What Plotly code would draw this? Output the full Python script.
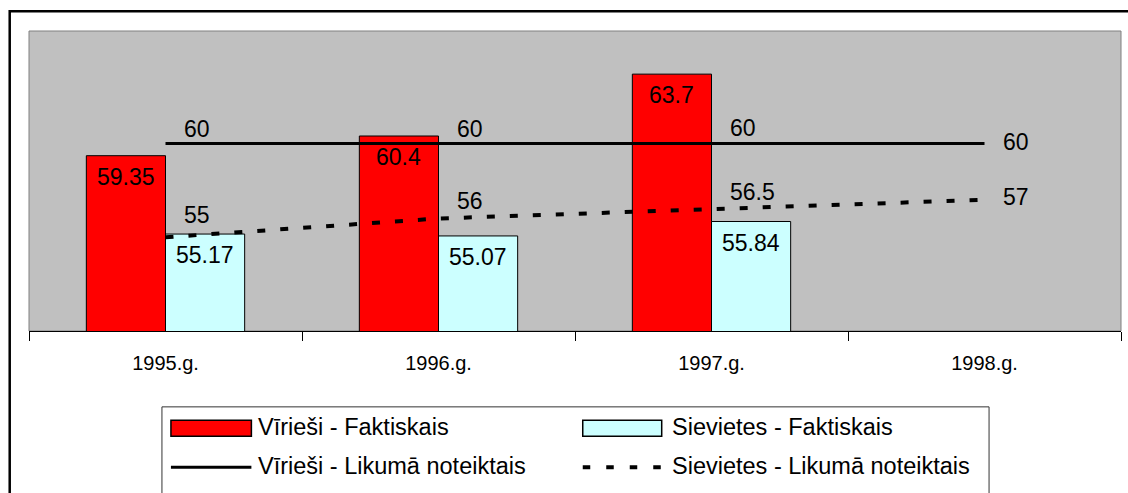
import plotly.graph_objects as go

# ---- data ----
categories = ["1995.g.", "1996.g.", "1997.g.", "1998.g."]
bar_categories = ["1995.g.", "1996.g.", "1997.g."]
men_actual = [59.35, 60.4, 63.7]
women_actual = [55.17, 55.07, 55.84]
men_legal = [60, 60, 60, 60]
women_legal = [55, 56, 56.5, 57]
series_names = ["Vīrieši - Faktiskais", "Sievietes - Faktiskais",
                "Vīrieši - Likumā noteiktais", "Sievietes - Likumā noteiktais"]

# ---- layout geometry / style ----
W, H = 1128, 493
L, R, T, B = 29, 6.5, 31, 161.5
pw, ph = W - L - R, H - T - B
FONT = "Arial, Liberation Sans, sans-serif"
RED, CYAN = "#FF0000", "#CCFFFF"
DASH = "8px,15px"


def px(x):
    return (x - L) / pw


def py(y):
    return (H - B - y) / ph


fig = go.Figure()
fig.add_trace(go.Bar(x=bar_categories, y=men_actual, name=series_names[0],
                     marker=dict(color=RED, line=dict(color="black", width=1))))
fig.add_trace(go.Bar(x=bar_categories, y=women_actual, name=series_names[1],
                     marker=dict(color=CYAN, line=dict(color="black", width=1))))
fig.add_trace(go.Scatter(x=categories, y=men_legal, mode="lines", name=series_names[2],
                         line=dict(color="black", width=3)))
fig.add_trace(go.Scatter(x=categories, y=women_legal, mode="lines", name=series_names[3],
                         line=dict(color="black", width=4, dash=DASH)))

annotations = []
half_bar = pw / len(categories) * (1 - 0.42) / 2 / 2
for xs, vals, sh in [(bar_categories, men_actual, -half_bar), (bar_categories, women_actual, half_bar)]:
    for c, v in zip(xs, vals):
        annotations.append(dict(x=c, y=v, text=str(v), showarrow=False, xshift=sh, yshift=-21,
                                xanchor="center", yanchor="middle",
                                font=dict(family=FONT, size=23, color="black")))
men_shift = [15, 15, 16, 2]
women_shift = [22, 18, 17, 3]
for vals, shifts in [(men_legal, men_shift), (women_legal, women_shift)]:
    for c, v, s in zip(categories, vals, shifts):
        annotations.append(dict(x=c, y=v, text=format(v, "g"), showarrow=False, xshift=16, yshift=s,
                                xanchor="left", yanchor="middle",
                                font=dict(family=FONT, size=23, color="black")))

# manual legend
leg_font = dict(family=FONT, size=23.5, color="black")
annotations += [
    dict(x=px(256), y=py(428), xref="paper", yref="paper", text=series_names[0], showarrow=False,
         xanchor="left", yanchor="middle", font=leg_font),
    dict(x=px(670), y=py(428), xref="paper", yref="paper", text=series_names[1], showarrow=False,
         xanchor="left", yanchor="middle", font=leg_font),
    dict(x=px(256), y=py(467), xref="paper", yref="paper", text=series_names[2], showarrow=False,
         xanchor="left", yanchor="middle", font=leg_font),
    dict(x=px(670), y=py(467), xref="paper", yref="paper", text=series_names[3], showarrow=False,
         xanchor="left", yanchor="middle", font=leg_font),
]

shapes = [
    # outer frame
    dict(type="rect", xref="paper", yref="paper", x0=px(9.7), x1=px(1140), y0=py(11.3), y1=py(510),
         line=dict(color="black", width=2.5), fillcolor="rgba(0,0,0,0)", layer="above"),
    # plot area border
    dict(type="rect", xref="paper", yref="paper", x0=0, x1=1, y0=0, y1=1,
         line=dict(color="#808080", width=1), fillcolor="rgba(0,0,0,0)", layer="below"),
    # legend box
    dict(type="rect", xref="paper", yref="paper", x0=px(162), x1=px(989.5), y0=py(407.5), y1=py(510),
         line=dict(color="#333333", width=1), fillcolor="white"),
    dict(type="rect", xref="paper", yref="paper", x0=px(171), x1=px(251.5), y0=py(421), y1=py(437),
         line=dict(color="black", width=1.5), fillcolor=RED),
    dict(type="rect", xref="paper", yref="paper", x0=px(583), x1=px(662), y0=py(421), y1=py(437),
         line=dict(color="black", width=1.5), fillcolor=CYAN),
    dict(type="line", xref="paper", yref="paper", x0=px(171), x1=px(251.5), y0=py(468), y1=py(468),
         line=dict(color="black", width=3)),
    dict(type="line", xref="paper", yref="paper", x0=px(583), x1=px(662), y0=py(468), y1=py(468),
         line=dict(color="black", width=4, dash="7.5px,16px")),
]

fig.update_layout(
    width=W, height=H,
    margin=dict(l=L, r=R, t=T, b=B, pad=0),
    paper_bgcolor="white", plot_bgcolor="#C0C0C0",
    barmode="group", bargap=0.42, bargroupgap=0,
    showlegend=False,
    font=dict(family=FONT, color="black"),
    xaxis=dict(type="category", categoryorder="array", categoryarray=categories,
               range=[-0.5, 3.5], showline=True, linecolor="black", linewidth=1,
               ticks="outside", tickson="boundaries", ticklen=9, tickcolor="black", tickwidth=1,
               ticklabelstandoff=14,
               showgrid=False, zeroline=False, tickfont=dict(family=FONT, size=20, color="black")),
    yaxis=dict(range=[50, 66], visible=False, showgrid=False, zeroline=False),
    annotations=annotations,
    shapes=shapes,
)

fig.write_html("out.html", config={"displayModeBar": False},
               post_script="document.body.style.margin='0';document.body.style.overflow='hidden';")
